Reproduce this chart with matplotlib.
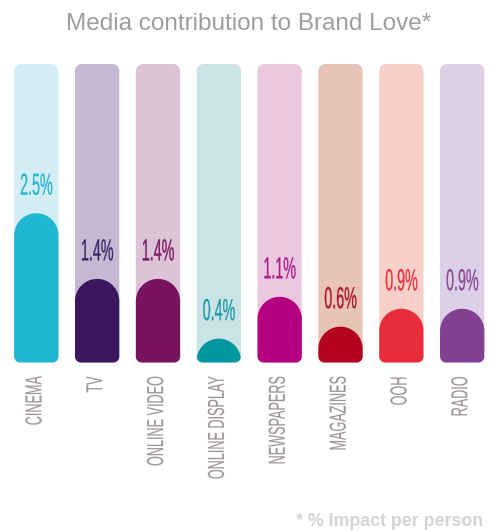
import numpy as np
import matplotlib
matplotlib.use("Agg")
from matplotlib import pyplot as plt
from matplotlib.patches import Polygon
from matplotlib.patheffects import AbstractPathEffect
from matplotlib.transforms import Affine2D

# chart data
media = ["CINEMA", "TV", "ONLINE VIDEO", "ONLINE DISPLAY",
         "NEWSPAPERS", "MAGAZINES", "OOH", "RADIO"]
impact = [2.5, 1.4, 1.4, 0.4, 1.1, 0.6, 0.9, 0.9]
value_labels = ["2.5%", "1.4%", "1.4%", "0.4%", "1.1%", "0.6%", "0.9%", "0.9%"]
scale_max = 5.0

fill_colors = ["#1fb7d3", "#3b1760", "#78135f", "#02969f",
               "#b4007f", "#b3031f", "#e72d3b", "#834091"]
back_colors = ["#d5eef5", "#c5b8d3", "#dcc3d7", "#c9e3e7",
               "#e9c8e0", "#e8c4b8", "#f7d1c9", "#dccfe6"]
label_colors = ["#2ab4d0", "#3f2466", "#7a1a62", "#1d9aa4",
                "#b21a8b", "#b2122d", "#e73441", "#8b4c98"]

W, H = 490, 531
PX_X = 60.84          # pixels per category step
PX_Y = 59.7           # pixels per percentage point
BAR_W = 0.728         # bar width in category units
ZERO_PX = 362.5       # pixel row of the baseline
FIRST_PX = 36.3       # pixel column of the first bar centre


class Tall(AbstractPathEffect):
    """Stretch glyphs across the baseline so a normal face looks condensed."""

    def __init__(self, sy, pivot="baseline", weight=0.0):
        super().__init__()
        self.sy = sy
        self.pivot = pivot
        self.weight = weight

    def draw_path(self, renderer, gc, tpath, affine, rgbFace=None):
        if self.pivot == "baseline":
            py = 0
        else:
            ext = tpath.get_extents()
            py = (ext.y0 + ext.y1) / 2
        stretch = Affine2D().translate(0, -py).scale(1, self.sy).translate(0, py)
        gc0 = renderer.new_gc()
        gc0.copy_properties(gc)
        gc0.set_linewidth(self.weight)
        if rgbFace is not None:
            gc0.set_foreground(rgbFace)
        renderer.draw_path(gc0, tpath, stretch + affine, rgbFace)
        gc0.restore()


def rounded_bar(xc, bottom, top, r_top, r_bot, color):
    half = BAR_W / 2
    corners = [
        (xc + half - r_bot / PX_X, bottom + r_bot / PX_Y, r_bot, -90, 0),
        (xc + half - r_top / PX_X, top - r_top / PX_Y, r_top, 0, 90),
        (xc - half + r_top / PX_X, top - r_top / PX_Y, r_top, 90, 180),
        (xc - half + r_bot / PX_X, bottom + r_bot / PX_Y, r_bot, 180, 270),
    ]
    pts = []
    for cx, cy, r, a0, a1 in corners:
        t = np.radians(np.linspace(a0, a1, 30))
        pts.append(np.column_stack([cx + r / PX_X * np.cos(t), cy + r / PX_Y * np.sin(t)]))
    return Polygon(np.vstack(pts), closed=True, facecolor=color, edgecolor="none")


fig = plt.figure(figsize=(W / 100, H / 100), dpi=100)
ax = fig.add_axes([0, 0, 1, 1])
ax.set_xlim(-FIRST_PX / PX_X, (W - FIRST_PX) / PX_X)
ax.set_ylim((ZERO_PX - H) / PX_Y, ZERO_PX / PX_Y)
ax.axis("off")

for i, (name, val, lab) in enumerate(zip(media, impact, value_labels)):
    ax.add_patch(rounded_bar(i, 0, scale_max, 7, 6, back_colors[i]))
    ax.add_patch(rounded_bar(i, 0, val, BAR_W * PX_X / 2, 6, fill_colors[i]))

    ax.text(i, val + 18.5 / PX_Y, lab, ha="center", va="baseline",
            fontsize=10.3, family="Liberation Sans", color=label_colors[i],
            path_effects=[Tall(2.13, weight=0.2)])

    ax.text(i - 1.5 / PX_X, -14 / PX_Y, name, rotation=90, ha="center", va="top",
            fontsize=9.1, family="Liberation Sans", color="#9c9594",
            path_effects=[Tall(1.82, pivot="middle", weight=0.1)])

fig.text(248.5 / W, 1 - 24 / H, "Media contribution to Brand Love*",
         ha="center", va="center", fontsize=17.5, family="Liberation Sans",
         color="#a09c9e")
fig.text(483 / W, 1 - 521 / H, "* % Impact per person",
         ha="right", va="center", fontsize=12.8, family="Liberation Sans",
         fontweight="bold", color="#d5d3d3")

fig.savefig("out.png", dpi=100)
